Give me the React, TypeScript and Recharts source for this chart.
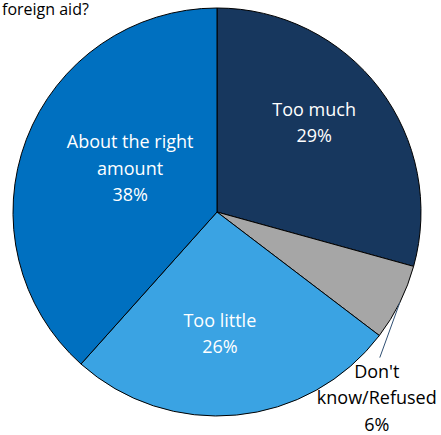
import { Cell, Pie, PieChart } from "recharts";

const categories = ["Too much", "Don't know/Refused", "Too little", "About the right amount"];
const shares = [29, 6, 26, 38];
const sliceColors = ["#17375E", "#A6A6A6", "#3AA3E3", "#0070C0"];

// label placement relative to each slice's middle (radius fraction, angle nudge in degrees)
const labelTweak: Record<string, { r: number; da: number }> = {
  "Too much": { r: 0.65, da: 5.6 },
  "Too little": { r: 0.593, da: -4.1 },
  "About the right amount": { r: 0.478, da: -6.1 },
};

const labelLines: Record<string, string[]> = {
  "Too much": ["Too much"],
  "Don't know/Refused": ["Don't", "know/Refused"],
  "Too little": ["Too little"],
  "About the right amount": ["About the right", "amount"],
};

const data = categories.map((name, i) => ({ name, value: shares[i] }));

const RAD = Math.PI / 180;
const FONT = "'Open Sans', sans-serif";
const LH = 26.5;

function renderLabel(props: any) {
  const { cx, cy, midAngle, outerRadius, name, value } = props;
  const lines = [...labelLines[name], `${value}%`];

  if (name === "Don't know/Refused") {
    const sx = cx + outerRadius * Math.cos(-midAngle * RAD);
    const sy = cy + outerRadius * Math.sin(-midAngle * RAD);
    const ex = sx - 20;
    const ey = sy + 55;
    const tx = ex - 3;
    return (
      <g>
        <path d={`M${sx},${sy}L${ex},${ey}`} stroke="#2F4F73" strokeWidth={1} fill="none" />
        {lines.map((t, i) => (
          <text
            key={i}
            x={tx}
            y={ey + 13 + i * LH}
            textAnchor="middle"
            dominantBaseline="central"
            fill="#000"
            fontSize={18}
            fontFamily={FONT}
          >
            {t}
          </text>
        ))}
      </g>
    );
  }

  const tw = labelTweak[name];
  const ang = midAngle + tw.da;
  const x = cx + outerRadius * tw.r * Math.cos(-ang * RAD);
  const y = cy + outerRadius * tw.r * Math.sin(-ang * RAD);
  const top = y - ((lines.length - 1) * LH) / 2;
  return (
    <g>
      {lines.map((t, i) => (
        <text
          key={i}
          x={x}
          y={top + i * LH}
          textAnchor="middle"
          dominantBaseline="central"
          fill="#fff"
          fontSize={18}
          fontFamily={FONT}
        >
          {t}
        </text>
      ))}
    </g>
  );
}

export default function App() {
  return (
    <div style={{ position: "absolute", left: 0, top: 0, width: 441, height: 435, background: "#fff" }}>
      <div
        style={{
          position: "absolute",
          left: 2,
          top: 0,
          fontFamily: FONT,
          fontSize: 16,
          color: "#000",
          lineHeight: "18px",
        }}
      >
        foreign aid?
      </div>
      <PieChart width={441} height={435} margin={{ top: 0, right: 0, bottom: 0, left: 0 }}>
        <Pie
          data={data}
          dataKey="value"
          nameKey="name"
          cx={217}
          cy={212}
          outerRadius={204}
          startAngle={90}
          endAngle={-270}
          stroke="#000"
          strokeWidth={1}
          label={renderLabel}
          labelLine={false}
          isAnimationActive={false}
        >
          {data.map((d, i) => (
            <Cell key={d.name} fill={sliceColors[i]} />
          ))}
        </Pie>
      </PieChart>
    </div>
  );
}
